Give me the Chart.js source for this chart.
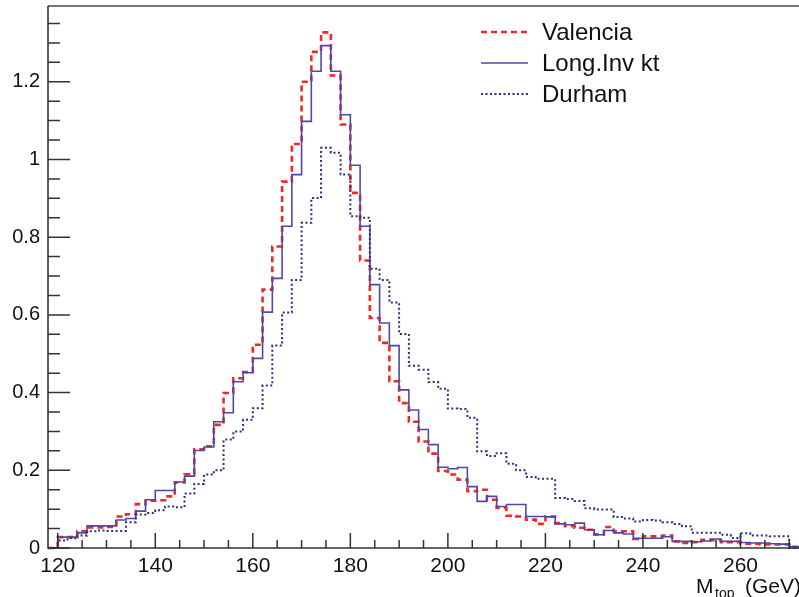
<!DOCTYPE html>
<html>
<head>
<meta charset="utf-8">
<script src="https://cdn.jsdelivr.net/npm/chart.js@4.4.1/dist/chart.umd.min.js"></script>
<style>
    html, body { margin: 0; padding: 0; background: #fff; }
</style>
</head>
<body>
<canvas id="mtop" width="799" height="597"></canvas>
<script>
// bin edges (GeV), 2 GeV bins
const binEdges = [118, 120, 122, 124, 126, 128, 130, 132, 134, 136, 138, 140, 142, 144, 146, 148, 150,
    152, 154, 156, 158, 160, 162, 164, 166, 168, 170, 172, 174, 176, 178, 180, 182, 184, 186, 188, 190,
    192, 194, 196, 198, 200, 202, 204, 206, 208, 210, 212, 214, 216, 218, 220, 222, 224, 226, 228, 230,
    232, 234, 236, 238, 240, 242, 244, 246, 248, 250, 252, 254, 256, 258, 260, 262, 264, 266, 268, 270, 272];

const valencia = [0, 0.028, 0.028, 0.043, 0.053, 0.053, 0.054, 0.081, 0.087, 0.113, 0.122, 0.123, 0.133,
    0.169, 0.19, 0.254, 0.262, 0.317, 0.399, 0.437, 0.453, 0.523, 0.665, 0.776, 0.943, 1.04, 1.2, 1.277,
    1.327, 1.216, 1.09, 0.914, 0.74, 0.592, 0.528, 0.429, 0.373, 0.325, 0.274, 0.243, 0.198, 0.189, 0.176,
    0.146, 0.15, 0.124, 0.103, 0.083, 0.081, 0.073, 0.062, 0.081, 0.064, 0.056, 0.052, 0.047, 0.035, 0.054,
    0.043, 0.043, 0.023, 0.03, 0.03, 0.032, 0.017, 0.013, 0.015, 0.021, 0.02, 0.015, 0.015, 0.011, 0.011,
    0.009, 0.009, 0.009, 0.003];

const longInvKt = [0, 0.028, 0.028, 0.039, 0.057, 0.057, 0.057, 0.072, 0.076, 0.095, 0.124, 0.148, 0.148,
    0.17, 0.185, 0.251, 0.26, 0.325, 0.348, 0.428, 0.451, 0.488, 0.607, 0.694, 0.828, 0.961, 1.098, 1.227,
    1.293, 1.227, 1.115, 0.985, 0.828, 0.678, 0.579, 0.521, 0.407, 0.355, 0.305, 0.266, 0.208, 0.204, 0.207,
    0.158, 0.12, 0.133, 0.107, 0.112, 0.112, 0.081, 0.081, 0.08, 0.062, 0.06, 0.064, 0.047, 0.034, 0.045,
    0.039, 0.036, 0.025, 0.025, 0.025, 0.029, 0.017, 0.017, 0.016, 0.018, 0.023, 0.017, 0.017, 0.014, 0.013,
    0.013, 0.011, 0.01, 0.003];

const durham = [0, 0.019, 0.025, 0.032, 0.043, 0.045, 0.044, 0.044, 0.066, 0.086, 0.09, 0.097, 0.107,
    0.105, 0.14, 0.165, 0.189, 0.2, 0.279, 0.3, 0.33, 0.36, 0.418, 0.521, 0.606, 0.69, 0.837, 0.901,
    1.03, 1.017, 0.961, 0.854, 0.85, 0.719, 0.69, 0.632, 0.551, 0.469, 0.459, 0.427, 0.41, 0.359, 0.358,
    0.335, 0.249, 0.237, 0.244, 0.217, 0.2, 0.183, 0.178, 0.178, 0.129, 0.126, 0.121, 0.102, 0.099, 0.099,
    0.08, 0.076, 0.068, 0.072, 0.071, 0.066, 0.062, 0.056, 0.039, 0.039, 0.039, 0.034, 0.026, 0.038, 0.032,
    0.032, 0.03, 0.03, 0];

const xTicks = [120, 140, 160, 180, 200, 220, 240, 260];
const yTicks = [0, 0.2, 0.4, 0.6, 0.8, 1, 1.2];

const FONT = '"Liberation Sans", Arial, Helvetica, sans-serif';

// histogram -> step points at bin low edges, last point closes the final bin
const toSteps = vals => binEdges.map((e, i) => ({ x: e, y: vals[Math.min(i, vals.length - 1)] }));

const rootStyle = {
    id: 'rootStyle',
    afterDraw(chart) {
        const { ctx, chartArea: a, scales: { x, y } } = chart;
        ctx.save();

        // tick marks drawn inside the frame, ROOT style
        ctx.strokeStyle = '#333';
        ctx.lineWidth = 1.5;
        ctx.beginPath();
        for (let v = 120; v <= 270; v += 5) {
            const px = x.getPixelForValue(v);
            const len = v % 20 === 0 ? 15 : 8;
            ctx.moveTo(px, a.bottom);
            ctx.lineTo(px, a.bottom - len);
        }
        for (let k = 0; k * 0.05 < y.max; k++) {
            const py = y.getPixelForValue(k * 0.05);
            const len = k % 4 === 0 ? 22 : 12;
            ctx.moveTo(a.left, py);
            ctx.lineTo(a.left + len, py);
        }
        ctx.stroke();

        // frame
        ctx.strokeStyle = '#777';
        ctx.lineWidth = 2;
        ctx.beginPath();
        ctx.moveTo(a.left, a.top);
        ctx.lineTo(a.right, a.top);
        ctx.stroke();
        ctx.strokeStyle = '#333';
        ctx.lineWidth = 1.6;
        ctx.beginPath();
        ctx.moveTo(a.left, a.top);
        ctx.lineTo(a.left, a.bottom);
        ctx.lineTo(a.right, a.bottom);
        ctx.stroke();

        // legend (no box)
        chart.data.datasets.forEach((ds, i) => {
            const ly = 32 + i * 31;
            ctx.strokeStyle = ds.borderColor;
            ctx.lineWidth = ds.borderWidth;
            ctx.setLineDash(ds.borderDash || []);
            ctx.beginPath();
            ctx.moveTo(481, ly);
            ctx.lineTo(528, ly);
            ctx.stroke();
            ctx.setLineDash([]);
            ctx.fillStyle = '#111';
            ctx.font = '24px ' + FONT;
            ctx.textAlign = 'left';
            ctx.textBaseline = 'middle';
            ctx.fillText(ds.label, 542, ly + 1);
        });

        // axis title M_top (GeV)
        ctx.fillStyle = '#111';
        ctx.textBaseline = 'alphabetic';
        ctx.font = '21px ' + FONT;
        ctx.fillText('M', 696, 593);
        ctx.font = '14px ' + FONT;
        ctx.fillText('top', 715, 598);
        ctx.font = '21px ' + FONT;
        ctx.fillText('(GeV)', 745, 593);

        ctx.restore();
    }
};

new Chart(document.getElementById('mtop'), {
    type: 'line',
    data: {
        datasets: [{
            label: 'Valencia',
            data: toSteps(valencia),
            borderColor: '#ec2a2a', borderWidth: 2.6, borderDash: [6, 4],
            stepped: 'before', pointRadius: 0, fill: false, order: 3, clip: 3,
        }, {
            label: 'Long.Inv kt',
            data: toSteps(longInvKt),
            borderColor: '#5048a6', borderWidth: 1.6,
            stepped: 'before', pointRadius: 0, fill: false, order: 2, clip: 3,
        }, {
            label: 'Durham',
            data: toSteps(durham),
            borderColor: '#2e2d7e', borderWidth: 2, borderDash: [2, 2.5],
            stepped: 'before', pointRadius: 0, fill: false, order: 1, clip: 3,
        }],
    },
    options: {
        responsive: false, animation: false, devicePixelRatio: 1,
        layout: { padding: { top: 6, right: 0, left: 0, bottom: 0 } },
        plugins: { legend: { display: false }, tooltip: { enabled: false } },
        scales: {
            x: {
                type: 'linear', min: 118, max: 272,
                grid: { display: false, drawTicks: false }, border: { display: false },
                ticks: { color: '#111', padding: 6, maxRotation: 0, autoSkip: false, font: { family: FONT, size: 21 } },
                afterBuildTicks: s => { s.ticks = xTicks.map(v => ({ value: v })); },
                afterFit: s => { s.height = 49; s.paddingLeft = 0; s.paddingRight = 0; },
            },
            y: {
                type: 'linear', min: 0, max: 1.395,
                grid: { display: false, drawTicks: false }, border: { display: false },
                ticks: { color: '#111', padding: 8, font: { family: FONT, size: 20 }, callback: v => String(v) },
                afterBuildTicks: s => { s.ticks = yTicks.map(v => ({ value: v })); },
                afterFit: s => { s.width = 48; s.paddingTop = 0; s.paddingBottom = 0; },
            },
        },
    },
    plugins: [rootStyle],
});
</script>
</body>
</html>
